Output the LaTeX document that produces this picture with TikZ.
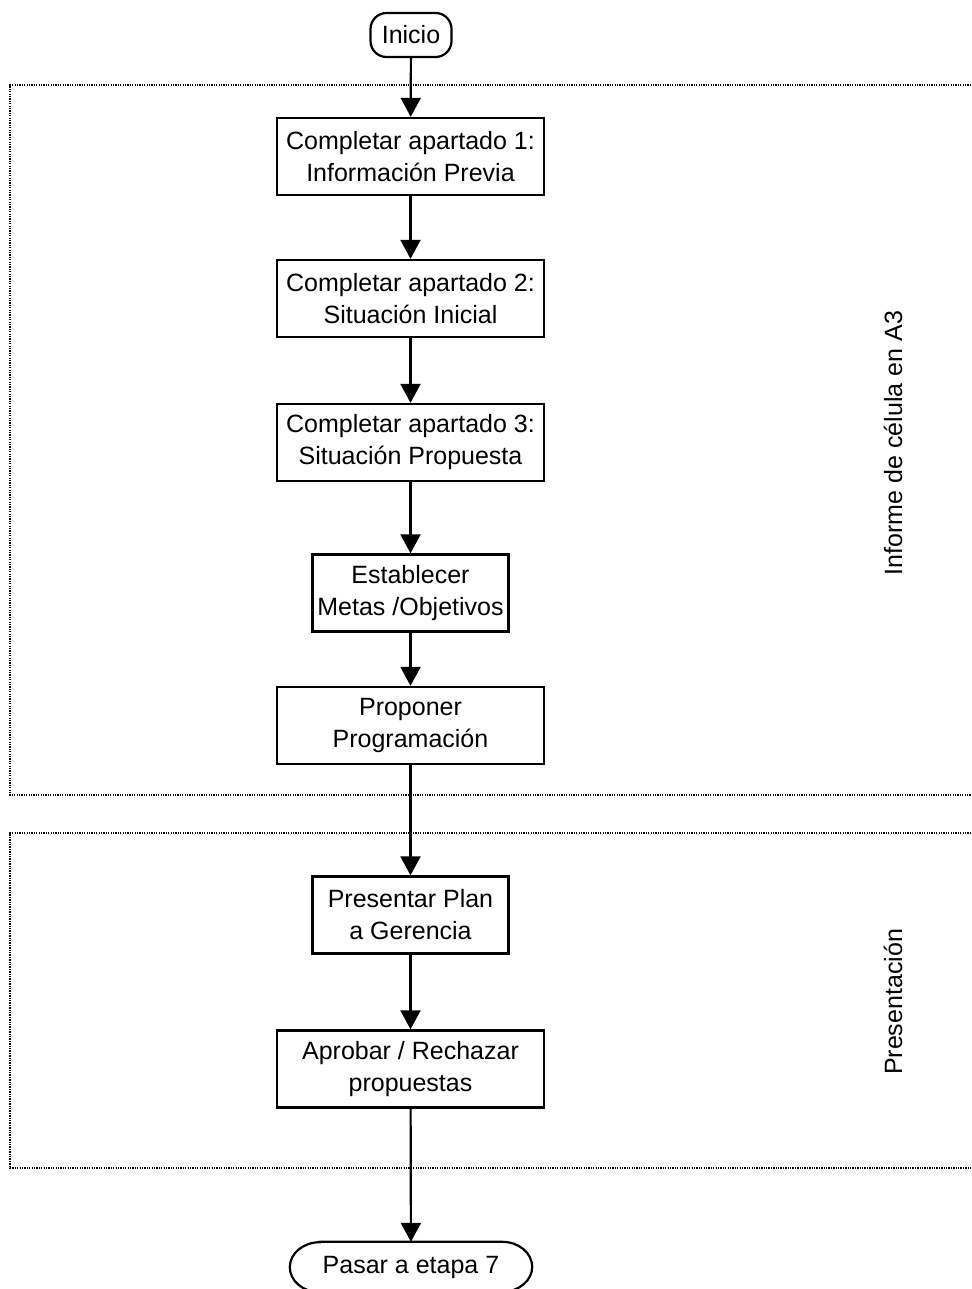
\documentclass[tikz,border=0pt]{standalone}
\usepackage{fontspec}
\setmainfont{Liberation Sans}
\usetikzlibrary{arrows.meta}
\begin{document}
\begin{tikzpicture}[x=1pt,y=-1pt,
  every node/.style={font=\fontsize{25}{32}\selectfont, align=center, inner sep=0pt},
  stepbox/.style={draw, line width=2.4pt, minimum height=77pt},
  wide/.style={minimum width=267pt},
  narrow/.style={minimum width=196pt},
  lane/.style={line width=1.3pt, dash pattern=on 1.3pt off 1.1pt},
  flow/.style={line width=2.2pt, -{Triangle[length=19pt,width=20pt]}},
  lanelabel/.style={rotate=90}
]
\useasboundingbox (0,0) rectangle (971,1289);

% swimlane frames, open on the right
\draw[lane] (971,85) -- (10,85) -- (10,795) -- (971,795);
\draw[lane] (971,833) -- (10,833) -- (10,1168) -- (971,1168);
\node[lanelabel] (l1) at (893,443) {Informe de célula en A3};
\node[lanelabel] (l2) at (893,1002) {Presentación};

% terminals and process steps
\node[draw, line width=2.2pt, rounded corners=16pt, minimum width=81pt, minimum height=44pt] (ini) at (411,35) {Inicio};
\node[stepbox, wide] (b1) at (410.5,156.5) {Completar apartado 1:\\Información Previa};
\node[stepbox, wide] (b2) at (410.5,298.5) {Completar apartado 2:\\Situación Inicial};
\node[stepbox, wide] (b3) at (410.5,442.5) {Completar apartado 3:\\Situación Propuesta};
\node[stepbox, narrow] (b4) at (410.5,593) {Establecer\\Metas /Objetivos};
\node[stepbox, wide] (b5) at (410.5,725.5) {Proponer\\Programación};
\node[stepbox, narrow] (b6) at (410.5,915) {Presentar Plan\\a Gerencia};
\node[stepbox, wide] (b7) at (410.5,1069) {Aprobar / Rechazar\\propuestas};
\node[minimum width=242pt, minimum height=50pt] (fin) at (411,1267) {Pasar a etapa 7};
% end terminal outline with elliptical ends
\draw[line width=2.2pt] ([xshift=30pt]fin.north west) -- ([xshift=-30pt]fin.north east)
  arc[start angle=-90, end angle=90, x radius=30, y radius=25]
  -- ([xshift=30pt]fin.south west)
  arc[start angle=90, end angle=270, x radius=30, y radius=25] -- cycle;

% connectors
\draw[flow] (ini) -- (b1);
\draw[flow] (b1) -- (b2);
\draw[flow] (b2) -- (b3);
\draw[flow] (b3) -- (b4);
\draw[flow] (b4) -- (b5);
\draw[flow] (b5) -- (b6);
\draw[flow] (b6) -- (b7);
\draw[flow] (b7) -- (fin);
\end{tikzpicture}
\end{document}
